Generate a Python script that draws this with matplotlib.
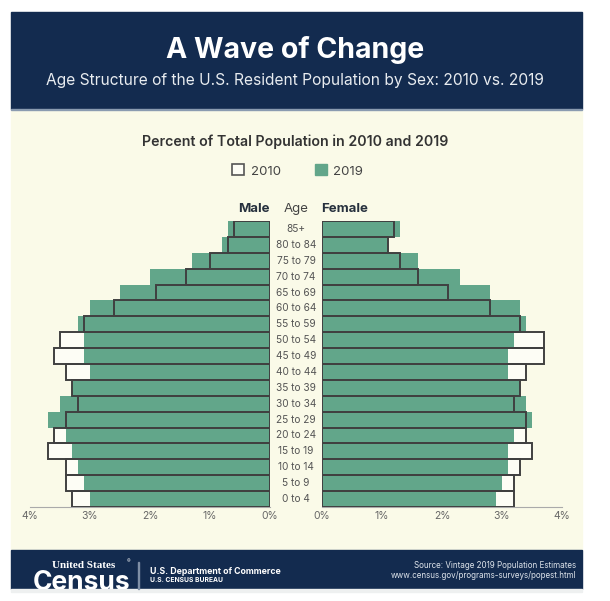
import matplotlib.pyplot as plt
from matplotlib.patches import Rectangle, Patch
from matplotlib import transforms

# age groups, bottom to top
ages = ["0 to 4", "5 to 9", "10 to 14", "15 to 19", "20 to 24", "25 to 29",
        "30 to 34", "35 to 39", "40 to 44", "45 to 49", "50 to 54", "55 to 59",
        "60 to 64", "65 to 69", "70 to 74", "75 to 79", "80 to 84", "85+"]

# percent of total population
male_2010 = [3.3, 3.4, 3.4, 3.7, 3.6, 3.4, 3.2, 3.3, 3.4, 3.6, 3.5, 3.1,
             2.6, 1.9, 1.4, 1.0, 0.7, 0.6]
male_2019 = [3.0, 3.1, 3.2, 3.3, 3.4, 3.7, 3.5, 3.3, 3.0, 3.1, 3.1, 3.2,
             3.0, 2.5, 2.0, 1.3, 0.8, 0.7]
female_2010 = [3.2, 3.2, 3.3, 3.5, 3.4, 3.4, 3.2, 3.3, 3.4, 3.7, 3.7, 3.3,
               2.8, 2.1, 1.6, 1.3, 1.1, 1.2]
female_2019 = [2.9, 3.0, 3.1, 3.1, 3.2, 3.5, 3.4, 3.3, 3.1, 3.1, 3.2, 3.4,
               3.3, 2.8, 2.3, 1.6, 1.1, 1.3]

ticks = [0, 1, 2, 3, 4]
tick_labels = ["0%", "1%", "2%", "3%", "4%"]

navy = "#132b4f"
cream = "#fafae8"
green = "#62a68a"
edge = "#404040"
W, H = 610, 601

plt.rcParams['font.family'] = ['Inter', 'DejaVu Sans']

fig = plt.figure(figsize=(W / 100, H / 100), dpi=100, facecolor="white")


def fx(px):
    return px / W


def fy(py):
    return 1 - py / H


def panel(x0, y0, x1, y1, color):
    r = Rectangle((fx(x0), fy(y1)), fx(x1 - x0), (y1 - y0) / H,
                  transform=fig.transFigure, color=color, zorder=-5)
    fig.patches.append(r)
    return r


# background panels
panel(11, 110, 582, 550, cream)
panel(11, 12, 582, 109, navy)
panel(11, 108.5, 582, 110, "#8a9bb0")
foot = panel(11, 550, 582, 589, navy)
panel(11, 589, 582, 592, "#eef0f0")

fig.text(0.484, fy(50), "A Wave of Change", color="white", fontsize=20.5,
         fontweight="bold", ha="center", va="center")
fig.text(0.484, fy(80), "Age Structure of the U.S. Resident Population by Sex: 2010 vs. 2019",
         color="#e8ecf0", fontsize=11.2, ha="center", va="center")
fig.text(0.484, fy(142), "Percent of Total Population in 2010 and 2019",
         color="#333333", fontsize=10.2, fontweight="semibold", ha="center", va="center")

handles = [Patch(facecolor="#fdfdf5", edgecolor="#555555", linewidth=1.2, label="2010"),
           Patch(facecolor=green, edgecolor=green, label="2019")]
fig.legend(handles=handles, loc="center", bbox_to_anchor=(0.488, fy(171)), ncol=2,
           frameon=False, fontsize=9.5, handlelength=0.9, handleheight=0.9,
           handletextpad=0.5, columnspacing=2.6, labelcolor="#444444")

y = list(range(len(ages)))
bottom = fy(507)
height = (507 - 221) / H
axL = fig.add_axes([fx(30), bottom, fx(240), height])
axR = fig.add_axes([fx(322), bottom, fx(240), height])

for ax, v10, v19 in [(axL, male_2010, male_2019), (axR, female_2010, female_2019)]:
    ax.barh(y, v10, height=1.0, color="#fdfdf5", zorder=1)
    ax.barh(y, v19, height=1.0, color=green, zorder=2)
    ax.barh(y, v10, height=1.0, facecolor="none", edgecolor=edge,
            linewidth=1.4, zorder=3)
    ax.set_xlim(0, 4)
    ax.set_ylim(-0.5, len(ages) - 0.5)
    ax.set_facecolor("none")
    for s in ["top", "right", "left"]:
        ax.spines[s].set_visible(False)
    ax.spines["bottom"].set_color("#aaaaaa")
    ax.spines["bottom"].set_linewidth(0.8)
    ax.set_yticks([])
    ax.set_xticks(ticks)
    ax.set_xticklabels(tick_labels)
    ax.tick_params(axis="x", length=0, pad=3, labelsize=7.5, labelcolor="#666666")

axL.invert_xaxis()

tr = transforms.blended_transform_factory(fig.transFigure, axL.transData)
for i, a in enumerate(ages):
    fig.text(fx(296), i, a, transform=tr, ha="center", va="center",
             fontsize=7.3, color="#555555")
fig.text(fx(270), fy(209), "Male", ha="right", va="center", fontsize=9.5,
         fontweight="bold", color="#26303d")
fig.text(fx(296), fy(209), "Age", ha="center", va="center", fontsize=9.5,
         color="#444444")
fig.text(fx(321), fy(209), "Female", ha="left", va="center", fontsize=9.5,
         fontweight="bold", color="#26303d")

# footer
fig.text(fx(52), fy(566), "United States", color="white", fontsize=8,
         fontweight="bold", family=["Liberation Serif"], ha="left", va="center")
fig.text(fx(127), fy(562), "®", color="white", fontsize=4, ha="left", va="center")
census = fig.text(fx(33), fy(583), "Census", color="white", fontsize=19,
                  fontweight="bold", ha="left", va="center")
census.set_clip_path(foot)
panel(138, 562, 139, 589, "#7f8fa6")
fig.text(fx(150), fy(571), "U.S. Department of Commerce", color="white", fontsize=6.3,
         fontweight="bold", ha="left", va="center")
fig.text(fx(150), fy(580), "U.S. CENSUS BUREAU", color="white", fontsize=4.8,
         fontweight="bold", ha="left", va="center")
fig.text(fx(576), fy(565), "Source: Vintage 2019 Population Estimates", color="#dde3ea",
         fontsize=5.8, ha="right", va="center")
fig.text(fx(576), fy(575), "www.census.gov/programs-surveys/popest.html", color="#dde3ea",
         fontsize=5.8, ha="right", va="center")

fig.savefig("out.png", dpi=100, facecolor="white")
